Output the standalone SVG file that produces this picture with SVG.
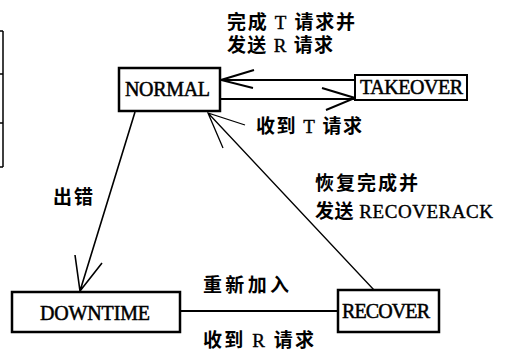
<svg xmlns="http://www.w3.org/2000/svg" width="508" height="358" viewBox="0 0 508 358">
<style>
.box{fill:#fff;stroke:#000;stroke-width:2.5}
.lbl{font-family:"Liberation Serif","Times New Roman",serif;font-size:20px;fill:#000;stroke:#000;stroke-width:0.5}
.cn{font-family:"Liberation Serif","Noto Sans CJK SC",serif;font-size:19px;fill:#000;font-weight:bold}
.la{font-weight:normal;stroke:#000;stroke-width:0.4}
.ln{fill:none;stroke:#000;stroke-width:2}
.thin{fill:none;stroke:#000;stroke-width:1.3}
</style>
<rect width="508" height="358" fill="#fff"/>
<g id="table-edge" fill="none" stroke="#000" stroke-width="1.5">
<path d="M3,31 V167 M0,31 H3 M0,74 H3 M0,123 H3 M0,167 H3"/>
</g>
<g id="connectors">
<path class="ln" d="M355,80 H221 M254,70 L221,80 L253,88"/>
<path class="ln" d="M221,99 H355 M322,88 L355,98 L326,110"/>
<path class="thin" d="M135,112 L80,291 M75,255 L80,291 L102,263" style="stroke-width:1.6"/>
<path class="thin" d="M374,290 L208,113 M245,125 L208,113 L223,148"/>
<path class="ln" d="M180,311 H338"/>
</g>
<g id="NORMAL"><rect class="box" x="119" y="68" width="101" height="43"/><text class="lbl" x="125" y="96" textLength="85">NORMAL</text></g>
<g id="TAKEOVER"><rect class="box" x="355" y="75" width="112" height="25" style="stroke-width:2"/><text class="lbl" x="360" y="94" font-size="19" textLength="103">TAKEOVER</text></g>
<g id="DOWNTIME"><rect class="box" x="12" y="292" width="168" height="40"/><text class="lbl" x="40" y="320" textLength="110">DOWNTIME</text></g>
<g id="RECOVER"><rect class="box" x="338" y="290" width="101" height="42"/><text class="lbl" x="342" y="318" font-size="19" textLength="88">RECOVER</text></g>
<g id="labels">
<text class="cn" x="227" y="29" textLength="128">完成 <tspan class="la">T</tspan> 请求并</text>
<text class="cn" x="227" y="52" textLength="106">发送 <tspan class="la">R</tspan> 请求</text>
<text class="cn" x="256" y="133" textLength="106">收到 <tspan class="la">T</tspan> 请求</text>
<text class="cn" x="53" y="204" textLength="40">出错</text>
<text class="cn" x="315" y="190" textLength="103">恢复完成并</text>
<text class="cn" x="315" y="218" textLength="178">发送 <tspan class="la">RECOVERACK</tspan></text>
<text class="cn" x="203" y="292" textLength="86">重新加入</text>
<text class="cn" x="203" y="347" textLength="111">收到 <tspan class="la">R</tspan> 请求</text>
</g>
</svg>
